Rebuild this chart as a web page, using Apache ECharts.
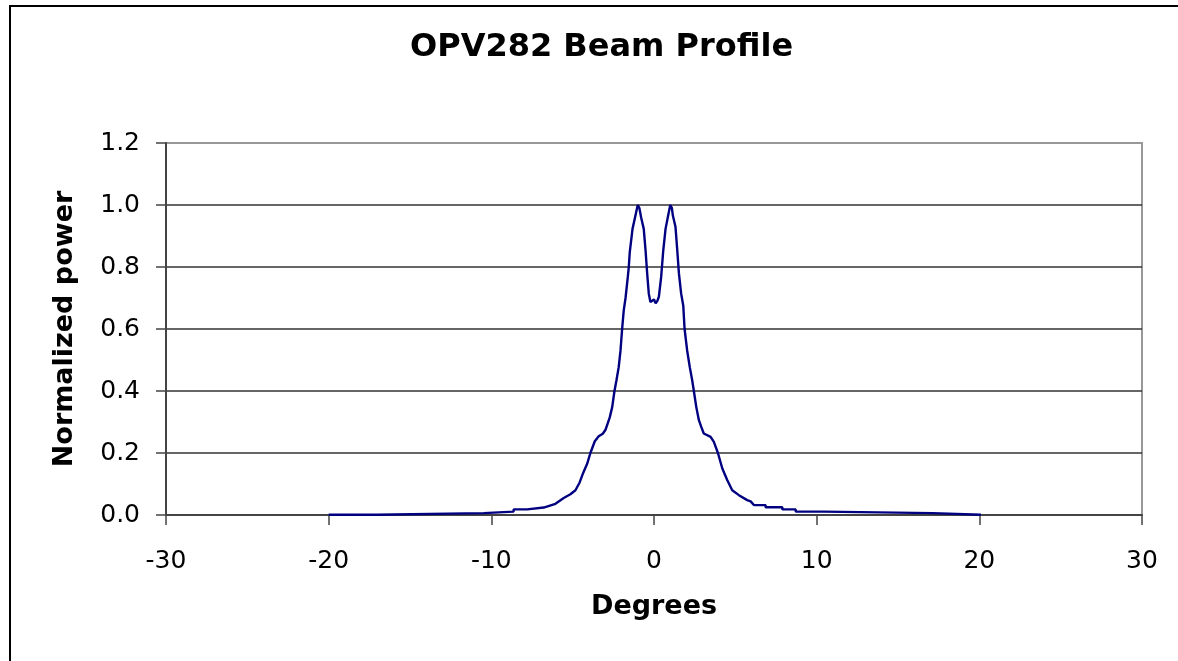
<!DOCTYPE html>
<html>
<head>
<meta charset="utf-8">
<title>OPV282 Beam Profile</title>
<script src="https://cdn.jsdelivr.net/npm/echarts@6/dist/echarts.min.js"></script>
<style>
    html, body { margin: 0; padding: 0; background: #fff; }
    #main { width: 1178px; height: 661px; }
</style>
</head>
<body>
<div id="main"></div>
<script>
// angle in degrees (steps in the tails are kept as pairs)
var degrees = [
    -20, -17.07, -17.07, -10.47, -10.47, -8.63, -8.63, -7.8, -7.8, -6.78, -6.78,
    -6.06, -5.55, -5.14, -4.83, -4.57, -4.36, -4.11, -3.91, -3.64, -3.4, -3.15,
    -2.98, -2.85, -2.72, -2.57, -2.43, -2.31, -2.17, -2.06, -1.96, -1.86, -1.75,
    -1.61, -1.55, -1.49, -1.32, -1.14, -1.0, -0.9, -0.79, -0.63, -0.52, -0.42,
    -0.32, -0.22, -0.1, 0.0, 0.1, 0.2, 0.3, 0.44, 0.57, 0.71, 0.87, 1.0, 1.1,
    1.16, 1.32, 1.43, 1.53, 1.67, 1.8, 1.88, 2.04, 2.2, 2.35, 2.45, 2.6, 2.76,
    2.9, 3.06, 3.48, 3.68, 3.93, 4.2, 4.5, 4.81, 5.22, 5.73, 5.94, 6.14, 6.86,
    6.86, 7.89, 7.89, 8.71, 8.71, 10.45, 10.45, 17.12, 17.12, 20.1
];
// normalized power at each angle
var power = [
    0.001, 0.001, 0.006, 0.006, 0.011, 0.011, 0.018, 0.018, 0.024, 0.024, 0.030,
    0.036, 0.055, 0.067, 0.080, 0.105, 0.135, 0.165, 0.200, 0.238, 0.254, 0.262,
    0.275, 0.295, 0.315, 0.348, 0.400, 0.434, 0.477, 0.530, 0.600, 0.660, 0.700,
    0.768, 0.800, 0.848, 0.923, 0.966, 1.000, 0.990, 0.960, 0.923, 0.854, 0.779,
    0.714, 0.687, 0.683, 0.695, 0.683, 0.690, 0.704, 0.768, 0.854, 0.923, 0.966, 1.000, 0.990,
    0.966, 0.930, 0.854, 0.780, 0.714, 0.675, 0.600, 0.530, 0.477, 0.434, 0.400, 0.348, 0.306,
    0.285, 0.263, 0.252, 0.236, 0.200, 0.150, 0.113, 0.080, 0.064, 0.048, 0.044, 0.032, 0.032,
    0.025, 0.025, 0.018, 0.018, 0.011, 0.011, 0.006, 0.006, 0.001, 0.001
];
var xTicks = [-30, -20, -10, 0, 10, 20, 30];
var yTicks = [0, 0.2, 0.4, 0.6, 0.8, 1.0, 1.2];

var lineData = degrees.map(function (d, i) { return [d, power[i]]; });

var font = '"DejaVu Sans", Arial, sans-serif';
var myChart = echarts.init(document.getElementById('main'));
var option = {
    animation: false,
    backgroundColor: '#fff',
    title: {
        text: 'OPV282 Beam Profile',
        left: 405,
        top: 27,
        textStyle: { fontFamily: font, fontSize: 32, fontWeight: 'bold', color: '#000' }
    },
    graphic: [{
        type: 'rect',
        shape: { x: 10, y: 6, width: 1200, height: 700 },
        style: { fill: 'none', stroke: '#000', lineWidth: 2 },
        silent: true
    }],
    grid: {
        left: 166,
        right: 36,
        top: 143,
        bottom: 146,
        show: true,
        borderColor: '#999',
        borderWidth: 2,
        backgroundColor: 'transparent'
    },
    xAxis: {
        type: 'value',
        min: xTicks[0],
        max: xTicks[xTicks.length - 1],
        interval: 10,
        name: 'Degrees',
        nameLocation: 'middle',
        nameGap: 78,
        nameTextStyle: { fontFamily: font, fontSize: 27, fontWeight: 'bold', color: '#000' },
        axisLine: { onZero: false, lineStyle: { color: '#444', width: 2 } },
        axisTick: { show: true, length: 10, inside: false, lineStyle: { color: '#444', width: 1.5 } },
        axisLabel: { margin: 34, fontFamily: font, fontSize: 25, color: '#000' },
        splitLine: { show: false }
    },
    yAxis: {
        type: 'value',
        min: yTicks[0],
        max: yTicks[yTicks.length - 1],
        interval: 0.2,
        name: 'Normalized power',
        nameLocation: 'middle',
        nameGap: 88,
        nameTextStyle: { fontFamily: font, fontSize: 27, fontWeight: 'bold', color: '#000' },
        axisLine: { show: true, onZero: false, lineStyle: { color: '#444', width: 2 } },
        axisTick: { show: true, length: 10, inside: false, lineStyle: { color: '#444', width: 1.5 } },
        axisLabel: {
            margin: 26,
            fontFamily: font,
            fontSize: 25,
            color: '#000',
            formatter: function (v) { return v.toFixed(1); }
        },
        splitLine: {
            show: true,
            lineStyle: { color: ['#444', '#333', '#333', '#333', '#333', '#333', '#999'], width: 1.5 }
        }
    },
    series: [{
        type: 'line',
        data: lineData,
        showSymbol: false,
        symbol: 'none',
        lineStyle: { color: '#000080', width: 2.4 },
        z: 3
    }]
};
myChart.setOption(option);
</script>
</body>
</html>
